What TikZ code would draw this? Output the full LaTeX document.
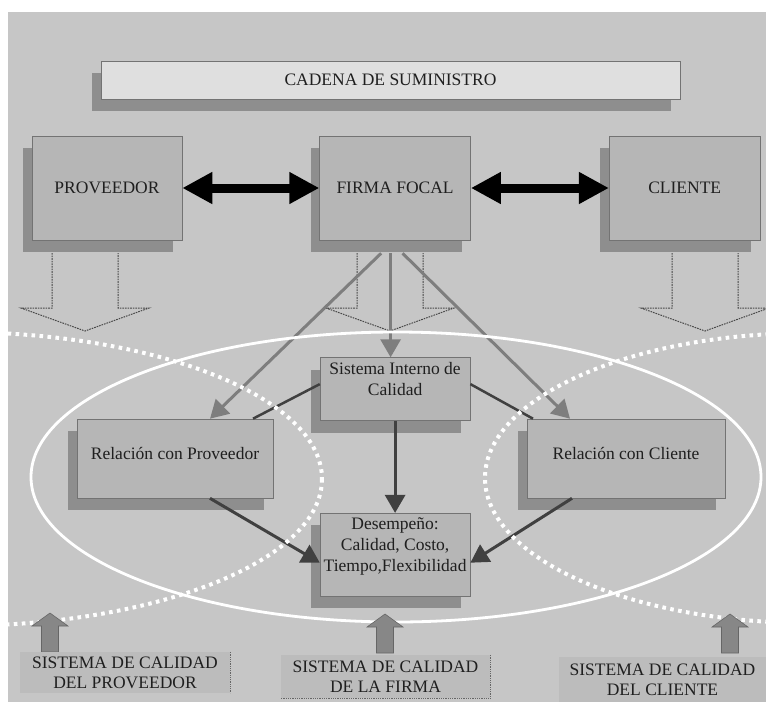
\documentclass[tikz,border=0pt]{standalone}
\usepackage{fontspec}
\setmainfont{Liberation Serif}
\usepackage{tikz}
\usetikzlibrary{positioning,arrows.meta,shadows}
\definecolor{canvas}{HTML}{C6C6C6}
\definecolor{panel}{HTML}{B6B6B6}
\definecolor{banner}{HTML}{DFDFDF}
\definecolor{shade}{HTML}{8E8E8E}
\definecolor{feedgray}{HTML}{7E7E7E}
\definecolor{ink}{HTML}{404040}
\definecolor{tagfill}{HTML}{BCBCBC}
\newcommand{\hollowdown}[1]{%
  \draw[hollow] (#1) ++(-33,0) -- ++(0,55) -- ++(-31,0) -- ++(64,23) -- ++(64,-23) -- ++(-31,0) -- ++(0,-55);}
\newcommand{\upblock}[1]{%
  \filldraw[pillar] (#1) ++(-8.5,0) -- ++(0,-26) -- ++(-9.5,0) -- ++(18,-13) -- ++(18,13) -- ++(-9.5,0) -- ++(0,26) -- cycle;}

\begin{document}
\begin{tikzpicture}[x=1pt, y=-1pt,
  every node/.style={font=\fontsize{17.5}{21}\selectfont, text=black!88},
  box/.style={draw=black!55, line width=0.6pt, fill=panel, inner sep=1pt,
    drop shadow={shadow xshift=-9pt, shadow yshift=-12pt, fill=shade, opacity=1}},
  topbox/.style={box, minimum width=151pt, minimum height=104pt},
  tag/.style={fill=tagfill, align=center, inner sep=1pt, font=\fontsize{17.5}{20}\selectfont},
  tagedge/.style={black!60, densely dotted, line width=0.8pt},
  link/.style={{Triangle[length=30pt,width=30pt]}-{Triangle[length=30pt,width=30pt]}, line width=9pt, black},
  feed/.style={-{Triangle[length=18pt,width=20pt]}, line width=3pt, feedgray},
  flow/.style={-{Triangle[length=18pt,width=20pt]}, line width=3pt, ink},
  hollow/.style={black!72, dash pattern=on 1.6pt off 1pt, line width=1pt},
  pillar/.style={fill=black!47, draw=black!60, line width=0.6pt},
  dots/.style={white, line width=4pt, dash pattern=on 3.6pt off 4.4pt}]
  \useasboundingbox (0,0) rectangle (766,702);
  \fill[canvas] (8,12) rectangle (766,702);

  % hollow arrows under the three partners
  \hollowdown{85,253}
  \hollowdown{390,253}
  \hollowdown{705,253}

  \node[box, fill=banner, minimum width=579pt, minimum height=38pt] (chain) at (390.5,80) {CADENA DE SUMINISTRO};
  \node[topbox, minimum width=150pt] (prov) at (107,188) {PROVEEDOR};
  \node[topbox, right=137pt of prov] (firma) {FIRMA FOCAL};
  \node[topbox, right=138pt of firma] (cliente) {CLIENTE};

  \node[box, minimum width=150pt, minimum height=63pt, align=center, below=117pt of firma] (sistema) {Sistema Interno de\\Calidad\\\mbox{}};
  \node[box, minimum width=150pt, minimum height=83pt, inner xsep=0pt, align=center, below=92pt of sistema] (desemp) {Desempeño:\\Calidad, Costo,\\Tiempo,Flexibilidad\\\mbox{}};
  \node[box, minimum width=196pt, minimum height=79pt] (relprov) at (175,458.5) {\raisebox{11pt}{Relación con Proveedor}};
  \node[box, minimum width=198pt, minimum height=79pt] (relcli) at (626,458.5) {\raisebox{11pt}{Relación con Cliente}};

  \draw[link] (prov) -- (firma);
  \draw[link] (firma) -- (cliente);

  \draw[feed] ([xshift=-14pt,yshift=-13pt]firma.south) -- ([xshift=35pt]relprov.north);
  \draw[feed] ([xshift=-4.5pt,yshift=-13pt]firma.south) -- ([xshift=-4.5pt]sistema.north);
  \draw[feed] ([xshift=7.5pt,yshift=-13pt]firma.south) -- ([xshift=-56pt]relcli.north);

  \draw[ink, line width=2.5pt] ([yshift=5pt]sistema.west) -- ([xshift=78pt]relprov.north);
  \draw[ink, line width=2.5pt] ([yshift=5pt]sistema.east) -- ([xshift=-93pt]relcli.north);
  \draw[flow] (sistema.south) -- (desemp.north);
  \draw[flow] ([xshift=35pt]relprov.south) -- ([yshift=-8pt]desemp.west);
  \draw[flow] ([xshift=-54pt]relcli.south) -- ([yshift=-8pt]desemp.east);

  % quality systems
  \begin{scope}
    \clip (8,12) rectangle (766,702);
    \draw[white, line width=2.8pt] (396,477) ellipse [x radius=365, y radius=145];
    \draw[dots] (-45,479) ellipse [x radius=367, y radius=147];
    \draw[dots] (810,478) ellipse [x radius=325, y radius=145];
  \end{scope}

  \upblock{50,652}
  \upblock{385,653}
  \upblock{730,653}

  \node[tag, minimum width=210pt, minimum height=41pt] (tagprov) at (125,672.5) {SISTEMA DE CALIDAD\\DEL PROVEEDOR};
  \node[tag, minimum width=209pt, minimum height=43pt] (tagfirma) at (385.5,676.5) {SISTEMA DE CALIDAD\\DE LA FIRMA};
  \node[tag, minimum width=207pt, minimum height=45pt] (tagcli) at (662.5,679.5) {SISTEMA DE CALIDAD\\DEL CLIENTE};
  \draw[tagedge] (tagprov.north east) -- (tagprov.south east);
  \draw[tagedge] (tagfirma.north east) -- (tagfirma.south east) -- (tagfirma.south west);
\end{tikzpicture}
\end{document}
